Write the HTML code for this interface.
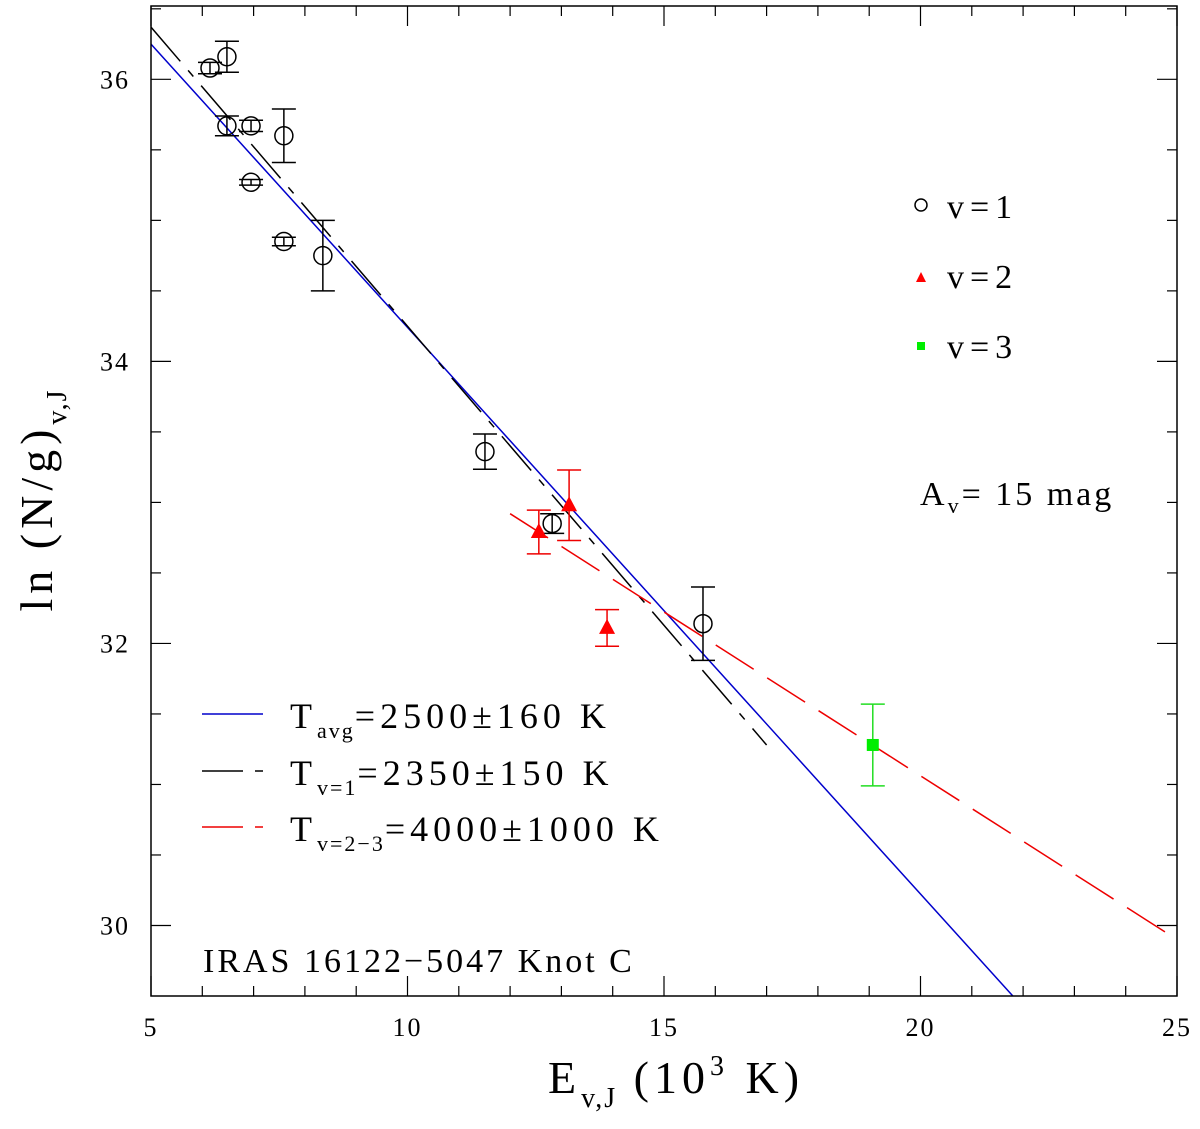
<!DOCTYPE html>
<html><head><meta charset="utf-8"><style>
body{margin:0;background:#fff}
svg{display:block;font-family:"Liberation Serif",serif}
</style></head><body>
<svg id="chart" width="1200" height="1129" xmlns="http://www.w3.org/2000/svg">
<g id="marks"></g>
<g id="axes"></g>
<text transform="translate(52,500) rotate(-90)" text-anchor="middle" font-size="46" letter-spacing="5">ln (N/g)<tspan font-size="28" dy="14" letter-spacing="2">v,J</tspan></text>
<text x="676" y="1093" text-anchor="middle" font-size="46" letter-spacing="5">E<tspan font-size="28" dy="14" letter-spacing="2">v,J</tspan><tspan dy="-14"> (10</tspan><tspan font-size="28" dy="-18">3</tspan><tspan dy="18"> K)</tspan></text>
<g font-size="34" letter-spacing="6">
<circle cx="921" cy="205" r="6" fill="none" stroke="#000" stroke-width="1.5"/>
<text x="947" y="218">v=1</text>
<polygon points="916,282 926,282 921,272" fill="#f00"/>
<text x="947" y="288">v=2</text>
<rect x="917" y="342" width="8" height="8" fill="#0e0"/>
<text x="947" y="358">v=3</text>
<text x="920" y="505" letter-spacing="3">A<tspan font-size="22" dy="8">v</tspan><tspan dy="-8">=  15 mag</tspan></text>
</g>
<g font-size="36" letter-spacing="5">
<line x1="202" y1="714" x2="263" y2="714" stroke="#00c" stroke-width="1.5"/>
<text x="290" y="728">T<tspan font-size="22" dy="10" letter-spacing="2">avg</tspan><tspan dy="-10">=2500±160  K</tspan></text>
<line x1="202" y1="771" x2="243" y2="771" stroke="#000" stroke-width="1.5"/>
<line x1="255" y1="771" x2="263" y2="771" stroke="#000" stroke-width="1.5"/>
<text x="290" y="785">T<tspan font-size="22" dy="10" letter-spacing="2">v=1</tspan><tspan dy="-10">=2350±150  K</tspan></text>
<line x1="202" y1="827" x2="243" y2="827" stroke="#e00" stroke-width="1.5"/>
<line x1="255" y1="827" x2="263" y2="827" stroke="#e00" stroke-width="1.5"/>
<text x="290" y="841">T<tspan font-size="22" dy="10" letter-spacing="2">v=2−3</tspan><tspan dy="-10">=4000±1000  K</tspan></text>
</g>
<text x="203" y="972" font-size="34" letter-spacing="3">IRAS 16122−5047  Knot C</text>
</svg>
<script>
const v1X=[6.15,6.48,6.48,6.95,7.59,6.95,7.59,8.35,11.51,12.82,15.76];
const v1Y=[36.08,36.16,35.67,35.67,35.6,35.27,34.85,34.75,33.36,32.85,32.14];
const v1E=[0.04,0.11,0.07,0.04,0.19,0.02,0.03,0.25,0.125,0.07,0.26];
const v2X=[12.56,13.15,13.89];
const v2Y=[32.79,32.98,32.11];
const v2E=[0.155,0.25,0.13];
const v3X=[19.07];
const v3Y=[31.28];
const v3E=[0.29];
const blueFit=[[5,36.25],[21.8,29.5]];
const blackFit=[[5,36.37],[17.0,31.28]];
const redFit=[[12.0,32.92],[25,29.9]];
const xTicks=[5,10,15,20,25];
const yTicks=[30,32,34,36];
const X0=151,X1=1177,Y0=6,Y1=996,xmin=5,xmax=25,ymin=29.5,ymax=36.52;
const sx=v=>X0+(v-xmin)/(xmax-xmin)*(X1-X0);
const sy=v=>Y1-(v-ymin)/(ymax-ymin)*(Y1-Y0);
const NS='http://www.w3.org/2000/svg';
const marks=document.getElementById('marks'),axes=document.getElementById('axes');
function mk(p,t,a){const e=document.createElementNS(NS,t);for(const k in a)e.setAttribute(k,a[k]);p.appendChild(e);return e;}
[[blueFit,'#00c','none','blue-fit-line'],[blackFit,'#000','45 12 8 12','black-fit-line'],[redFit,'#e00','45 16','red-fit-line']].forEach(f=>{
const l=mk(marks,'line',{x1:sx(f[0][0][0]),y1:sy(f[0][0][1]),x2:sx(f[0][1][0]),y2:sy(f[0][1][1]),stroke:f[1],'stroke-width':1.5,'stroke-dasharray':f[2]});


});
function err(x,y,e,c){
const g=mk(marks,'g',{stroke:c,'stroke-width':1.5});


const px=sx(x),a=sy(y+e),b=sy(y-e);
mk(g,'line',{x1:px,y1:a,x2:px,y2:b});mk(g,'line',{x1:px-12,y1:a,x2:px+12,y2:a});mk(g,'line',{x1:px-12,y1:b,x2:px+12,y2:b});
}
v1X.forEach((x,i)=>{err(x,v1Y[i],v1E[i],'#000');
const c=mk(marks,'circle',{cx:sx(x),cy:sy(v1Y[i]),r:9,fill:'none',stroke:'#000','stroke-width':1.5});

});
v2X.forEach((x,i)=>{err(x,v2Y[i],v2E[i],'#e00');const px=sx(x),py=sy(v2Y[i]);
const p=mk(marks,'polygon',{points:`${px-8},${py+6} ${px+8},${py+6} ${px},${py-9}`,fill:'#f00'});

});
v3X.forEach((x,i)=>{err(x,v3Y[i],v3E[i],'#2d2');const px=sx(x),py=sy(v3Y[i]);
const r=mk(marks,'rect',{x:px-6,y:py-6,width:12,height:12,fill:'#0e0'});

});
const fr=mk(axes,'rect',{x:X0,y:Y0,width:X1-X0,height:Y1-Y0,fill:'none',stroke:'#000','stroke-width':1.5});


for(let v=xmin;v<=xmax;v++){const L=(v%5===0)?20:10,px=sx(v);
mk(axes,'line',{x1:px,y1:Y1,x2:px,y2:Y1-L,stroke:'#000','stroke-width':1.2});
mk(axes,'line',{x1:px,y1:Y0,x2:px,y2:Y0+L,stroke:'#000','stroke-width':1.2});}
for(let v=30;v<=36.5;v+=0.5){const L=(v%2===0)?20:10,py=sy(v);
mk(axes,'line',{x1:X0,y1:py,x2:X0+L,y2:py,stroke:'#000','stroke-width':1.2});
mk(axes,'line',{x1:X1,y1:py,x2:X1-L,y2:py,stroke:'#000','stroke-width':1.2});}
xTicks.forEach(v=>{const t=mk(axes,'text',{x:sx(v),y:1036,'text-anchor':'middle','font-size':26,'letter-spacing':2});t.textContent=v;

});
yTicks.forEach(v=>{const t=mk(axes,'text',{x:130,y:sy(v)+9,'text-anchor':'end','font-size':26,'letter-spacing':2});t.textContent=v;

});
</script>
</body></html>
